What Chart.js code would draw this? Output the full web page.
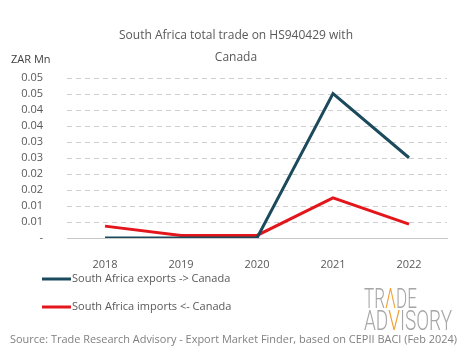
<!DOCTYPE html>
<html>
<head>
<meta charset="utf-8">
<script src="https://cdn.jsdelivr.net/npm/chart.js@4.4.1/dist/chart.umd.min.js"></script>
<style>
html,body{margin:0;padding:0;background:#fff;}
#wrap{width:465px;height:359px;position:relative;}
</style>
</head>
<body>
<div id="wrap"><canvas id="c" width="465" height="359"></canvas></div>
<script>
const categories = ['2018', '2019', '2020', '2021', '2022'];
const exportsValues = [0, 0, 0, 0.045, 0.025];
const importsValues = [0.0037, 0.0008, 0.0008, 0.0125, 0.0043];
const yTickLabels = ['-', '0.01', '0.01', '0.02', '0.02', '0.03', '0.03', '0.04', '0.04', '0.05', '0.05'];
const seriesNames = ['South Africa exports -> Canada', 'South Africa imports <- Canada'];
const titleLines = ['South Africa total trade on HS940429 with', 'Canada'];
const unitLabel = 'ZAR Mn';
const sourceText = 'Source: Trade Research Advisory - Export Market Finder, based on CEPII BACI (Feb 2024)';

const FONT = '"Open Sans", "Noto Sans", sans-serif';
const TEXT = '#595959';

const dashedGrid = {
  id: 'dashedGrid',
  beforeDatasetsDraw(chart) {
    const ctx = chart.ctx;
    const y = chart.scales.y;
    const area = chart.chartArea;
    ctx.save();
    ctx.strokeStyle = '#d0d0d0';
    ctx.lineWidth = 1;
    ctx.setLineDash([5, 4]);
    y.ticks.forEach((t, i) => {
      if (i === 0) return;
      const py = Math.round(y.getPixelForValue(t.value)) + 0.5;
      ctx.beginPath();
      ctx.moveTo(area.left, py);
      ctx.lineTo(area.right, py);
      ctx.stroke();
    });
    ctx.restore();
  }
};

const overlay = {
  id: 'overlay',
  afterDraw(chart) {
    const ctx = chart.ctx;
    ctx.save();
    ctx.fillStyle = TEXT;
    ctx.font = '12px ' + FONT;
    ctx.textAlign = 'center';
    ctx.textBaseline = 'middle';
    ctx.fillText(titleLines[0], 236, 36);
    ctx.fillText(titleLines[1], 236, 58);
    ctx.textAlign = 'left';
    ctx.font = '11px ' + FONT;
    ctx.fillStyle = '#404040';
    ctx.fillText(unitLabel, 11, 60);
    const ys = [279, 307];
    chart.data.datasets.forEach((ds, i) => {
      ctx.strokeStyle = ds.borderColor;
      ctx.lineWidth = 3;
      ctx.beginPath();
      ctx.moveTo(42, ys[i]);
      ctx.lineTo(71, ys[i]);
      ctx.stroke();
      ctx.fillStyle = TEXT;
      ctx.font = '11px ' + FONT;
      ctx.textAlign = 'left';
      ctx.fillText(ds.label, 72, ys[i]);
    });
    ctx.fillStyle = '#808080';
    ctx.font = '11px ' + FONT;
    ctx.textAlign = 'left';
    const sw = ctx.measureText(sourceText).width;
    ctx.save();
    ctx.translate(10, 340);
    ctx.scale(447 / sw, 1);
    ctx.fillText(sourceText, 0, 0);
    ctx.restore();
    drawLogoLine(ctx, [['TR', '#a6a6a6'], ['\u039B', '#f0a030'], ['DE', '#a6a6a6']], 364, 301, 53);
    drawLogoLine(ctx, [['AD', '#a6a6a6'], ['V', '#f0a030'], ['ISORY', '#a6a6a6']], 364, 323, 88);
    ctx.restore();
  }
};

function drawLogoLine(ctx, parts, x, y, targetW) {
  ctx.save();
  ctx.font = '300 28px Roboto, sans-serif';
  ctx.textAlign = 'left';
  ctx.textBaseline = 'middle';
  let total = 0;
  parts.forEach(p => total += ctx.measureText(p[0]).width);
  ctx.translate(x, y);
  ctx.scale(targetW / total, 1);
  let cx = 0;
  parts.forEach(p => {
    ctx.fillStyle = p[1];
    ctx.fillText(p[0], cx, 0);
    cx += ctx.measureText(p[0]).width;
  });
  ctx.restore();
}

new Chart(document.getElementById('c'), {
  type: 'line',
  data: {
    labels: categories,
    datasets: [
      { label: seriesNames[0], data: exportsValues, borderColor: '#1b4a5c', backgroundColor: '#1b4a5c', borderWidth: 3, pointRadius: 0, tension: 0 },
      { label: seriesNames[1], data: importsValues, borderColor: '#e3161b', backgroundColor: '#e3161b', borderWidth: 3, pointRadius: 0, tension: 0 }
    ]
  },
  options: {
    responsive: false,
    animation: false,
    layout: { padding: { left: 0, right: 18, top: 77.5, bottom: 0 } },
    plugins: { legend: { display: false }, title: { display: false }, tooltip: { enabled: false } },
    scales: {
      x: {
        offset: true,
        grid: { display: false },
        border: { display: true, color: '#c8c8c8', width: 1 },
        ticks: { color: TEXT, font: { family: FONT, size: 11 }, padding: 12, maxRotation: 0 },
        afterFit(s) { s.height = 121; }
      },
      y: {
        min: 0, max: 0.05,
        grid: { display: false },
        border: { display: false },
        ticks: {
          stepSize: 0.005, autoSkip: false, padding: 16, color: TEXT, font: { family: FONT, size: 11 },
          callback: (v, i) => yTickLabels[i]
        },
        afterFit(s) { s.width = 67; }
      }
    }
  },
  plugins: [dashedGrid, overlay]
});
</script>
</body>
</html>
